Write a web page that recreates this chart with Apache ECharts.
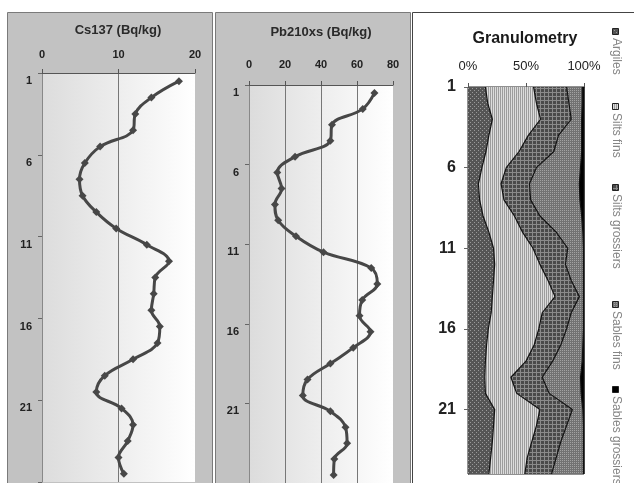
<!DOCTYPE html>
<html><head><meta charset="utf-8">
<script src="https://cdn.jsdelivr.net/npm/echarts@6/dist/echarts.min.js"></script>
<style>html,body{margin:0;padding:0;background:#fff}#c{width:634px;height:483px}</style>
</head><body><div id="c"></div>
<script>
// ---------- data ----------
const depths = ['1','2','3','4','5','6','7','8','9','10','11','12','13','14','15','16','17','18','19','20','21','22','23','24','25'];
const cs137 = [17.9, 14.3, 12.2, 11.9, 7.6, 5.6, 4.9, 5.3, 7.1, 9.7, 13.7, 16.6, 14.8, 14.6, 14.3, 15.4, 15.1, 11.9, 8.2, 7.1, 10.4, 11.9, 11.2, 10.0, 10.7];
const pb210xs = [69.7, 63.2, 46.1, 45.2, 25.6, 15.7, 18.1, 14.4, 16.2, 26.1, 41.4, 67.9, 71.3, 62.9, 61.4, 67.5, 57.9, 45.2, 32.5, 29.9, 45.2, 53.6, 54.5, 47.4, 47.0];
const argiles         = [15, 17, 21, 18, 15.5, 12, 9, 10, 13, 18, 22, 23, 22, 21, 20, 17.5, 16, 15, 14.5, 15, 23, 22, 21, 19.5, 18];
const siltsFins       = [41.5, 42, 41.5, 34, 28.5, 21, 19.5, 21, 27, 29, 34, 39, 47, 54, 44, 43.5, 41, 35, 22.5, 27, 39, 37, 34, 31.5, 31];
const siltsGrossiers  = [28.5, 28, 26.5, 26, 30, 26, 24.5, 23, 22, 29, 30, 22, 20, 21, 25, 24, 23, 23, 27, 28, 28, 26, 25, 25, 23];
const sablesFins      = [13.5, 11.5, 9, 20, 24, 38, 43, 42.5, 36, 23, 13.5, 15.5, 10.5, 3.5, 10.5, 14.5, 19, 25.5, 33, 27.5, 9, 14.5, 19.5, 23.5, 27.5];
const sablesGrossiers = [1.5, 1.5, 2, 2, 2, 3, 4, 3.5, 2, 1, 0.5, 0.5, 0.5, 0.5, 0.5, 0.5, 1, 1.5, 3, 2.5, 1, 0.5, 0.5, 0.5, 0.5];
const granNames = ['Argiles', 'Silts fins', 'Silts grossiers', 'Sables fins', 'Sables grossiers'];
const csTicks = [0, 20, 10];   // min, max, interval
const pbTicks = [0, 80, 20];
const granTicks = [0, 100, 50];

// ---------- patterns ----------
function pat(w, h, bg, fg, pts) {
  const c = document.createElement('canvas'); c.width = w; c.height = h;
  const g = c.getContext('2d'); g.fillStyle = bg; g.fillRect(0, 0, w, h);
  g.fillStyle = fg; pts.forEach(p => g.fillRect(p[0], p[1], p[2] || 1, p[3] || 1));
  return { image: c, repeat: 'repeat' };
}
const fills = [
  pat(4, 4, '#555555', '#9a9a9a', [[0,0],[2,2]]),
  pat(2, 1, '#dcdcdc', '#9c9c9c', [[0,0]]),
  pat(4, 4, '#4a4a4a', '#8a8a8a', [[0,0,4,1],[0,0,1,4]]),
  pat(2, 2, '#727272', '#a2a2a2', [[0,0]]),
  '#000000'
];
const granData = [argiles, siltsFins, siltsGrossiers, sablesFins, sablesGrossiers];

const grad = () => new echarts.graphic.LinearGradient(0, 0, 1, 0, [{offset: 0, color: '#dcdcdc'}, {offset: 1, color: '#ffffff'}]);
const FF = 'Arial, "Liberation Sans", sans-serif';

function valueAxis(gi, t, margin, extra) {
  return Object.assign({
    gridIndex: gi, type: 'value', position: 'top', min: t[0], max: t[1], interval: t[2],
    axisLine: {show: true, lineStyle: {color: '#555', width: 1}},
    axisTick: {show: true, length: 4, lineStyle: {color: '#555'}},
    axisLabel: {margin: margin, fontWeight: 'bold', fontSize: 11, color: '#222', fontFamily: FF},
    splitLine: {show: true, showMinLine: false, showMaxLine: false, lineStyle: {color: '#777', width: 1}}
  }, extra || {});
}
function catAxis(gi, gap, lbl) {
  return {
    gridIndex: gi, type: 'category', data: depths, inverse: true, boundaryGap: gap,
    axisLine: {show: true, onZero: false, lineStyle: {color: gi === 2 ? '#222' : '#888'}},
    axisTick: {show: true, interval: 4, length: 4, lineStyle: {color: '#666'}},
    axisLabel: Object.assign({interval: 4, fontWeight: 'bold', color: '#222', fontFamily: FF}, lbl),
    splitLine: {show: false}
  };
}

const series = [
  {type: 'line', xAxisIndex: 0, yAxisIndex: 0, data: cs137, smooth: 0.4, symbol: 'diamond', symbolSize: 8,
   lineStyle: {color: '#474747', width: 3}, itemStyle: {color: '#474747'}, z: 5},
  {type: 'line', xAxisIndex: 1, yAxisIndex: 1, data: pb210xs, smooth: 0.4, symbol: 'diamond', symbolSize: 8,
   lineStyle: {color: '#474747', width: 3}, itemStyle: {color: '#474747'}, z: 5}
];
granNames.forEach((n, i) => series.push({
  name: n, type: 'line', xAxisIndex: 2, yAxisIndex: 2, stack: 'gran', data: granData[i],
  symbol: 'none', lineStyle: {color: '#111', width: 1.2}, areaStyle: {color: fills[i], opacity: 1}, z: 3
}));

// legend (rotated text, drawn as graphic)
const legendY = [28, 103, 184, 301, 386];
const graphics = [
  {type: 'rect', z: -5, shape: {x: 7.5, y: 12.5, width: 205, height: 480}, style: {fill: '#c2c2c2', stroke: '#7a7a7a', lineWidth: 1}},
  {type: 'rect', z: -5, shape: {x: 215.5, y: 12.5, width: 195, height: 480}, style: {fill: '#c2c2c2', stroke: '#7a7a7a', lineWidth: 1}},
  {type: 'rect', z: -5, shape: {x: 412.5, y: 12.5, width: 230, height: 480}, style: {fill: '#ffffff', stroke: '#444', lineWidth: 1}},
  {type: 'text', z: 10, x: 118, y: 30, style: {text: 'Cs137 (Bq/kg)', fontSize: 13, fontWeight: 'bold', fill: '#2a2a2a', fontFamily: FF, align: 'center', verticalAlign: 'middle'}},
  {type: 'text', z: 10, x: 321, y: 32, style: {text: 'Pb210xs (Bq/kg)', fontSize: 13, fontWeight: 'bold', fill: '#2a2a2a', fontFamily: FF, align: 'center', verticalAlign: 'middle'}},
  {type: 'text', z: 10, x: 525, y: 39, style: {text: 'Granulometry', fontSize: 16, fontWeight: 'bold', fill: '#1a1a1a', fontFamily: FF, align: 'center', verticalAlign: 'middle'}}
];
granNames.forEach((n, i) => {
  graphics.push({type: 'rect', z: 10, shape: {x: 612.5, y: legendY[i] + 0.5, width: 6, height: 6}, style: {fill: fills[i], stroke: '#222', lineWidth: 1}});
  graphics.push({type: 'text', z: 10, x: 616, y: legendY[i] + 10, rotation: -Math.PI / 2,
    style: {text: n, fontSize: 12, fill: '#858585', fontFamily: FF, align: 'left', verticalAlign: 'middle'}});
});

const chart = echarts.init(document.getElementById('c'), null, {renderer: 'canvas'});
chart.setOption({
  animation: false,
  backgroundColor: '#ffffff',
  grid: [
    {left: 42, top: 73, width: 153, height: 409, show: true, backgroundColor: grad(), borderWidth: 0},
    {left: 249, top: 85, width: 144, height: 398, show: true, backgroundColor: grad(), borderWidth: 0},
    {left: 468, top: 87, width: 116, height: 387, show: true, backgroundColor: '#ffffff', borderColor: '#222', borderWidth: 1}
  ],
  xAxis: [
    valueAxis(0, csTicks, 13),
    valueAxis(1, pbTicks, 15),
    valueAxis(2, granTicks, 14, {
      axisLabel: {margin: 14, fontSize: 13, color: '#222', fontFamily: FF, formatter: '{value}%'},
      splitLine: {show: false}, axisLine: {show: true, lineStyle: {color: '#222'}}
    })
  ],
  yAxis: [
    catAxis(0, true, {fontSize: 11, margin: 10}),
    catAxis(1, true, {fontSize: 11, margin: 10}),
    catAxis(2, false, {fontSize: 16, margin: 12})
  ],
  graphic: graphics,
  series: series
});
</script>
</body></html>
